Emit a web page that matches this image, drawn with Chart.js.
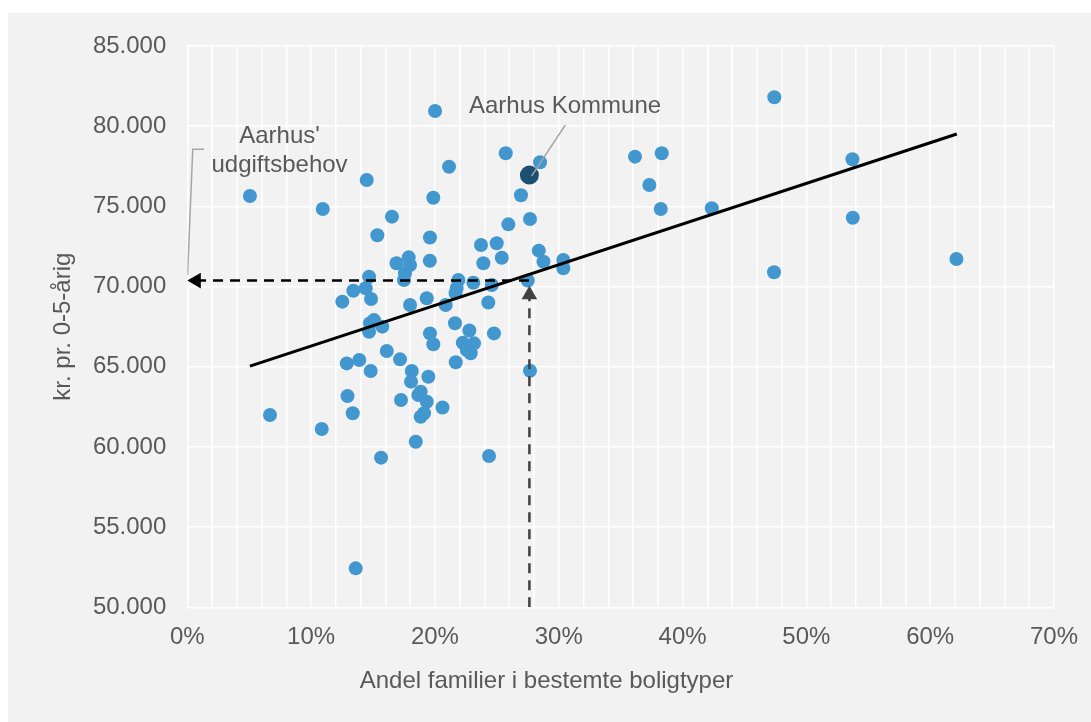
<!DOCTYPE html>
<html>
<head>
<meta charset="utf-8">
<script src="https://cdn.jsdelivr.net/npm/chart.js@4.4.1/dist/chart.umd.min.js"></script>
<style>
  html, body { margin: 0; padding: 0; background: #ffffff; }
  #wrap { position: absolute; left: 8px; top: 13px; width: 1083px; height: 709px; background: #f2f2f2; }
</style>
</head>
<body>
<div id="wrap"><canvas id="chart" width="1083" height="709"></canvas></div>
<script>
// andel familier i bestemte boligtyper (%) og kr. pr. 0-5-aarig, en kommune pr. indeks
const andel = [
  5.06, 6.68, 10.94, 10.86, 14.49, 13.60, 12.52, 13.41, 12.88, 12.94,
  13.36, 13.89, 14.41, 14.68, 14.84, 14.81, 14.68, 14.76, 15.08, 15.35,
  15.75, 15.65, 16.11, 16.53, 16.90, 17.18, 17.26, 17.50, 17.58, 17.88,
  17.99, 17.99, 18.13, 18.07, 18.45, 18.85, 18.66, 18.85, 19.12, 19.34,
  19.47, 19.34, 19.60, 19.59, 19.60, 19.87, 19.87, 20.01, 20.61, 20.87,
  21.14, 21.62, 21.68, 21.89, 21.76, 21.66, 23.10, 24.59, 24.31, 27.50,
  22.78, 22.25, 23.16, 22.57, 22.89, 22.83, 24.77, 27.68, 24.37, 23.72,
  24.99, 23.91, 25.40, 25.72, 25.93, 26.95, 27.68, 28.49, 28.39, 28.77,
  30.37, 30.37, 36.16, 38.32, 37.32, 38.24, 42.36, 47.41, 47.39, 53.72,
  53.75, 62.12
];
const udgift = [
  75650, 61990, 74840, 61120, 76640, 52430, 69060, 69740, 65210, 63170,
  62100, 65420, 69890, 70610, 69220, 64730, 67180, 67710, 67910, 73200,
  67500, 59330, 65980, 74360, 71450, 65460, 62930, 70410, 70830, 71820,
  71340, 68850, 64730, 64070, 60320, 63440, 63240, 61880, 62100, 62820,
  64380, 69270, 73060, 71610, 67080, 66400, 75540, 80950, 62460, 68850,
  77470, 67710, 65280, 70410, 69910, 69600, 70240, 70100, 69010, 70380,
  67260, 66500, 66460, 66040, 65840, 66250, 67080, 64750, 59430, 72590,
  72700, 71450, 71800, 78310, 73880, 75690, 74210, 77750, 72240, 71550,
  71660, 71140, 78100, 78310, 76330, 74840, 74880, 81800, 70890, 77940,
  74290, 71720
];

const aarhusAndel = 27.63;
const aarhusUdgift = 76950;

// tendenslinje (endepunkter)
const trendX = [5.06, 62.15];
const trendY = [65040, 79510];

// pile: udgiftsbehov aflæst på tendenslinjen
const behovY = 70370;
const pilVandretX = [27.6, 0.73];
const pilLodretY = [50000, 69490];

// ledelinjer til tekster
const kommuneLinjeX = [27.8, 30.53];
const kommuneLinjeY = [76890, 80075];
const behovLinjeX = [1.35, 0.44, 0.02];
const behovLinjeY = [78560, 78560, 70720];

const xTicksMax = 70;
const yMin = 50000, yMax = 85000;

const pts = (xs, ys) => xs.map((x, i) => ({ x: x, y: ys[i] }));
const fmt = v => String(v).replace(/\B(?=(\d{3})+(?!\d))/g, '.');
const FONT = "'Liberation Sans', Arial, sans-serif";
const GREY = '#595959';

const textPlugin = {
  id: 'texts',
  afterDraw(chart) {
    const { ctx, scales: { x, y } } = chart;
    ctx.save();
    ctx.fillStyle = GREY;
    ctx.font = '24px ' + FONT;
    ctx.textAlign = 'center';
    ctx.textBaseline = 'middle';
    ctx.fillText('Aarhus Kommune', x.getPixelForValue(30.51), y.getPixelForValue(81230));
    ctx.fillText("Aarhus'", x.getPixelForValue(7.45), y.getPixelForValue(79390));
    ctx.fillText('udgiftsbehov', x.getPixelForValue(7.45), y.getPixelForValue(77580));
    ctx.fillText('Andel familier i bestemte boligtyper', chart.width / 2 - 3, 668);
    ctx.restore();
  }
};

new Chart(document.getElementById('chart'), {
  type: 'scatter',
  data: {
    datasets: [
      {
        data: pts(kommuneLinjeX, kommuneLinjeY),
        showLine: true, borderColor: '#a6a6a6', borderWidth: 1.5,
        pointRadius: 0, order: 0
      },
      {
        data: pts(behovLinjeX, behovLinjeY),
        showLine: true, borderColor: '#a6a6a6', borderWidth: 1.5,
        pointRadius: 0, order: 0
      },
      {
        data: pts(pilVandretX, [behovY, behovY]),
        showLine: true, borderColor: '#000000', borderWidth: 2.5, borderDash: [10, 7],
        pointStyle: 'triangle', pointRadius: [0, 9], pointRotation: -90,
        pointBackgroundColor: '#000000', pointBorderWidth: 0, order: 1
      },
      {
        data: pts([aarhusAndel, aarhusAndel], pilLodretY),
        showLine: true, borderColor: '#404040', borderWidth: 2.5, borderDash: [10, 7],
        pointStyle: 'triangle', pointRadius: [0, 9], pointRotation: 0,
        pointBackgroundColor: '#404040', pointBorderWidth: 0, order: 1
      },
      {
        data: pts(trendX, trendY),
        showLine: true, borderColor: '#000000', borderWidth: 3,
        pointRadius: 0, order: 2
      },
      {
        data: [{ x: aarhusAndel, y: aarhusUdgift }],
        pointRadius: 9.5, pointBackgroundColor: '#1d4f73', pointBorderWidth: 0, order: 3
      },
      {
        data: pts(andel, udgift),
        pointRadius: 7, pointBackgroundColor: '#4397cf', pointBorderWidth: 0, order: 4
      }
    ]
  },
  options: {
    responsive: false,
    animation: false,
    devicePixelRatio: 1,
    events: [],
    layout: { padding: { left: 0, top: 33, right: 37, bottom: 0 } },
    plugins: { legend: { display: false }, tooltip: { enabled: false } },
    scales: {
      x: {
        type: 'linear', min: 0, max: xTicksMax,
        afterFit: s => { s.height = 114.7; s.paddingLeft = 0; s.paddingRight = 0; },
        grid: { color: '#ffffff', lineWidth: 1.5, drawTicks: false },
        border: { display: false },
        ticks: {
          stepSize: 2, autoSkip: false, maxRotation: 0, padding: 16,
          color: GREY, font: { family: FONT, size: 24 },
          callback: v => (Math.round(v) % 10 === 0 ? Math.round(v) + '%' : '')
        }
      },
      y: {
        type: 'linear', min: yMin, max: yMax,
        afterFit: s => { s.width = 179.3; s.paddingTop = 0; s.paddingBottom = 0; },
        grid: { color: '#ffffff', lineWidth: 1.5, drawTicks: false },
        border: { display: false },
        ticks: {
          stepSize: 5000, padding: 21,
          color: GREY, font: { family: FONT, size: 24 },
          callback: v => fmt(v)
        },
        title: {
          display: true, text: 'kr. pr. 0-5-årig', color: GREY,
          font: { family: FONT, size: 24 }, padding: { top: 41, bottom: 0 }
        }
      }
    }
  },
  plugins: [textPlugin]
});
</script>
</body>
</html>
